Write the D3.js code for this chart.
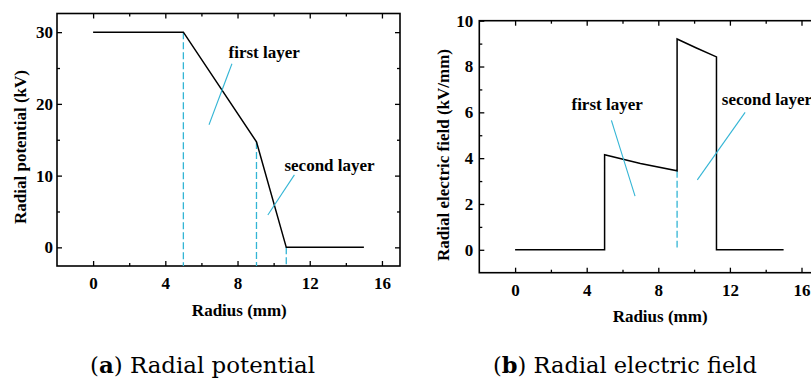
<!DOCTYPE html>
<html>
<head>
<meta charset="utf-8">
<script src="https://cdn.jsdelivr.net/npm/d3@7"></script>
<style>
  body { margin: 0; background: #fff; }
</style>
</head>
<body>
<script>
// data
var radius = [0, 5, 9.05, 10.7, 15];
var potential = [30, 30, 14.7, 0, 0];
var potDashX = [5, 9.05, 10.7];
var potDashTop = [30, 14.7, 0];

var fieldRadius = [0, 5, 5, 7, 9.05, 9.05, 10.1, 11.25, 11.25, 15];
var field = [0, 0, 4.15, 3.77, 3.45, 9.2, 8.82, 8.42, 0, 0];
var fieldDashX = [9.05];
var fieldDashTop = [3.45];

var xTicks = [0, 4, 8, 12, 16];
var xMinor = [2, 6, 10, 14];
var potTicks = [0, 10, 20, 30];
var potMinor = [5, 15, 25];
var fieldTicks = [0, 2, 4, 6, 8, 10];
var fieldMinor = [1, 3, 5, 7, 9];

// annotations, in data units: text position, pointer line ends
var potNotes = [
  {label: "first layer", at: [7.5, 26.4], from: [7.69, 25.6], to: [6.42, 17.1]},
  {label: "second layer", at: [10.6, 10.7], from: [11.15, 10.1], to: [9.68, 4.5]}
];
var fieldNotes = [
  {label: "first layer", at: [3.15, 6.1], from: [5.38, 5.65], to: [6.7, 2.34]},
  {label: "second layer", at: [11.55, 6.33], from: [12.85, 6.0], to: [10.18, 3.05]}
];

var cyan = "#33b5d5";
var serif = "Liberation Serif";

var svg = d3.select("body").append("svg")
    .attr("width", 811)
    .attr("height", 380);

function panel(o) {
  var x = d3.scaleLinear().domain([-2, 17]).range(o.xr);
  var y = d3.scaleLinear().domain(o.yd).range(o.yr);
  var g = svg.append("g");
  var x0 = o.xr[0], x1 = o.xr[1], y0 = o.yr[0], y1 = o.yr[1];

  // axes with inward ticks on all four sides
  g.append("g").attr("transform", "translate(0," + y0 + ")")
    .call(d3.axisBottom(x).tickValues(xTicks).tickSize(-5).tickSizeOuter(0).tickPadding(11));
  g.append("g").attr("transform", "translate(0," + y0 + ")")
    .call(d3.axisBottom(x).tickValues(xMinor).tickSize(-3).tickSizeOuter(0).tickFormat(""));
  g.append("g").attr("transform", "translate(0," + y1 + ")")
    .call(d3.axisTop(x).tickValues(xTicks).tickSize(-5).tickSizeOuter(0).tickFormat(""));
  g.append("g").attr("transform", "translate(0," + y1 + ")")
    .call(d3.axisTop(x).tickValues(xMinor).tickSize(-3).tickSizeOuter(0).tickFormat(""));
  g.append("g").attr("transform", "translate(" + x0 + ",0)")
    .call(d3.axisLeft(y).tickValues(o.yTicks).tickSize(-5).tickSizeOuter(0).tickPadding(o.yPad));
  g.append("g").attr("transform", "translate(" + x0 + ",0)")
    .call(d3.axisLeft(y).tickValues(o.yMinor).tickSize(-3).tickSizeOuter(0).tickFormat(""));
  g.append("g").attr("transform", "translate(" + x1 + ",0)")
    .call(d3.axisRight(y).tickValues(o.yTicks).tickSize(-5).tickSizeOuter(0).tickFormat(""));
  g.append("g").attr("transform", "translate(" + x1 + ",0)")
    .call(d3.axisRight(y).tickValues(o.yMinor).tickSize(-3).tickSizeOuter(0).tickFormat(""));

  g.selectAll(".domain").remove();
  g.selectAll(".tick line").attr("stroke", "#000").attr("stroke-width", 1.3);
  g.selectAll(".tick text")
    .attr("font-family", serif)
    .attr("font-weight", "bold")
    .attr("font-size", 17)
    .attr("fill", "#000");

  // frame
  g.append("rect")
    .attr("x", x0).attr("y", y1)
    .attr("width", x1 - x0).attr("height", y0 - y1)
    .attr("fill", "none").attr("stroke", "#000").attr("stroke-width", 1.6);

  // dashed guides
  g.selectAll(".guide")
    .data(o.dashX)
    .enter().append("line")
    .attr("x1", function(d) { return x(d); })
    .attr("x2", function(d) { return x(d); })
    .attr("y1", function(d, i) { return y(o.dashTop[i]); })
    .attr("y2", o.dashBottom == null ? y0 : y(o.dashBottom))
    .attr("stroke", cyan)
    .attr("stroke-width", 1.3)
    .attr("stroke-dasharray", "7,3");

  // curve
  var line = d3.line()
    .x(function(d) { return x(d[0]); })
    .y(function(d) { return y(d[1]); });
  g.append("path")
    .datum(d3.zip(o.xs, o.ys))
    .attr("d", line)
    .attr("fill", "none")
    .attr("stroke", "#000")
    .attr("stroke-width", 1.5);

  // annotations
  o.notes.forEach(function(n) {
    g.append("line")
      .attr("x1", x(n.from[0])).attr("y1", y(n.from[1]))
      .attr("x2", x(n.to[0])).attr("y2", y(n.to[1]))
      .attr("stroke", cyan).attr("stroke-width", 1.1);
    g.append("text")
      .attr("x", x(n.at[0])).attr("y", y(n.at[1]))
      .attr("font-family", serif).attr("font-weight", "bold")
      .attr("font-size", 17)
      .text(n.label);
  });

  // axis titles
  g.append("text")
    .attr("x", x(8.1)).attr("y", o.xTitleY)
    .attr("text-anchor", "middle")
    .attr("font-family", serif).attr("font-weight", "bold")
    .attr("font-size", 17)
    .text("Radius (mm)");
  g.append("text")
    .attr("transform", "translate(" + o.yTitle[0] + "," + o.yTitle[1] + ") rotate(-90)")
    .attr("text-anchor", "middle")
    .attr("dy", "0.35em")
    .attr("font-family", serif).attr("font-weight", "bold")
    .attr("font-size", 17)
    .text(o.yLabel);
}

panel({
  xr: [57, 400], yd: [-2.6, 32.6], yr: [266, 13.5],
  yTicks: potTicks, yMinor: potMinor, yPad: 4,
  xs: radius, ys: potential,
  dashX: potDashX, dashTop: potDashTop,
  notes: potNotes,
  xTitleY: 316, yTitle: [20, 147], yLabel: "Radial potential (kV)"
});

panel({
  xr: [479.3, 819.4], yd: [-1, 10], yr: [272.7, 20.7],
  yTicks: fieldTicks, yMinor: fieldMinor, yPad: 6,
  xs: fieldRadius, ys: field,
  dashX: fieldDashX, dashTop: fieldDashTop, dashBottom: 0.1,
  notes: fieldNotes,
  xTitleY: 322, yTitle: [443, 155], yLabel: "Radial electric field (kV/mm)"
});

// captions
var captions = [
  {x: 90, tag: "a", rest: " Radial potential", w: 225},
  {x: 493, tag: "b", rest: " Radial electric field", w: 264}
];
captions.forEach(function(c) {
  var t = svg.append("text")
    .attr("x", c.x).attr("y", 373)
    .attr("font-family", "DejaVu Serif")
    .attr("font-weight", "normal")
    .attr("font-size", 22)
    .attr("textLength", c.w)
    .attr("lengthAdjust", "spacingAndGlyphs");
  t.append("tspan").text("(");
  t.append("tspan").attr("font-weight", "bold").text(c.tag);
  t.append("tspan").text(")" + c.rest);
});
</script>
</body>
</html>
